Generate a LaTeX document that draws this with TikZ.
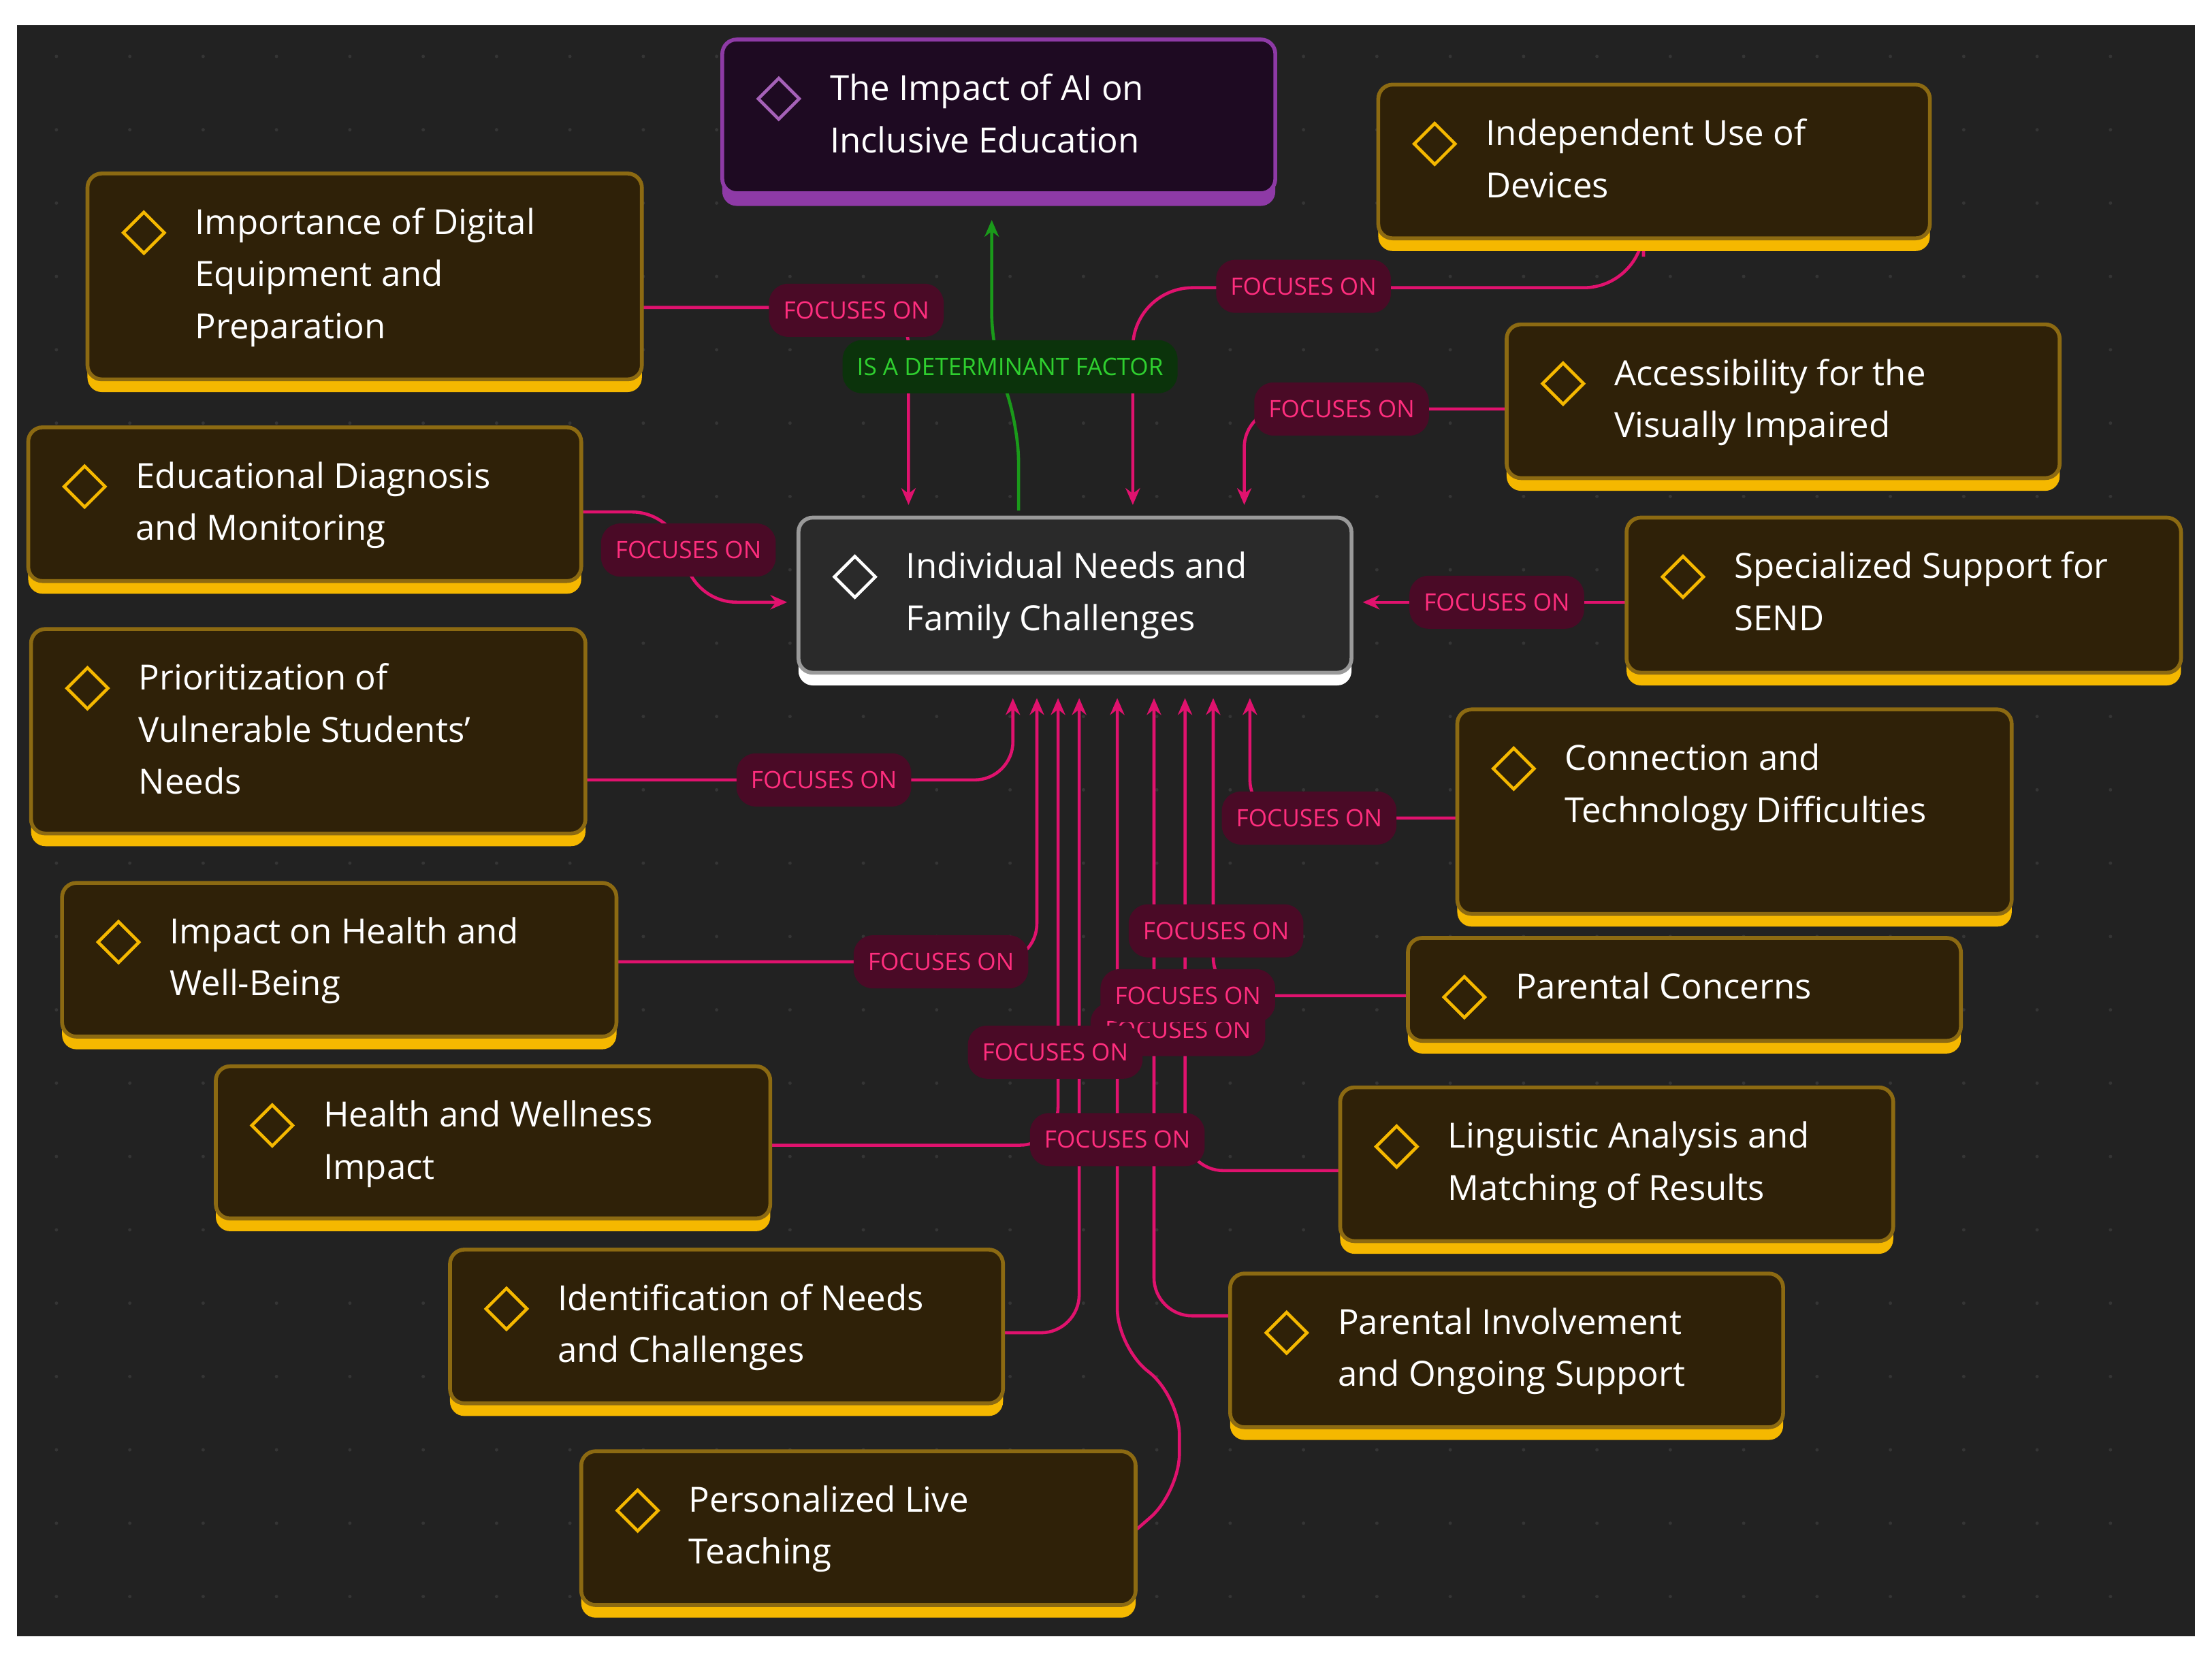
\documentclass[tikz,border=0pt]{standalone}
\usepackage{fontspec}
\setmainfont{Open Sans}
\usetikzlibrary{shapes.geometric,arrows.meta,fit}
\definecolor{bg}{HTML}{222222}
\definecolor{dotc}{HTML}{353535}
\definecolor{bfill}{HTML}{2F2108}
\definecolor{bdraw}{HTML}{8C6A12}
\definecolor{bbar}{HTML}{F5B800}
\definecolor{pfill}{HTML}{1E0A22}
\definecolor{pdraw}{HTML}{8E3AA6}
\definecolor{cfill}{HTML}{2A2A2A}
\definecolor{cdraw}{HTML}{9A9A9A}
\definecolor{ecol}{HTML}{E0126E}
\definecolor{lfill}{HTML}{4A0A26}
\definecolor{ltext}{HTML}{FF2E7E}
\definecolor{gcol}{HTML}{1A9A1A}
\definecolor{gfill}{HTML}{0B330B}
\definecolor{gtext}{HTML}{2FCF2F}
\tikzset{
 ybar/.style={fill=bbar}, ybox/.style={fill=bfill,draw=bdraw,line width=1.6pt}, yicon/.style={draw=bbar},
 pbar/.style={fill=pdraw}, pbox/.style={fill=pfill,draw=pdraw,line width=1.6pt}, picon/.style={draw=pdraw!80!white},
 cbar/.style={fill=white}, cbox/.style={fill=cfill,draw=cdraw,line width=1.6pt}, cicon/.style={draw=white},
 txt/.style={text=white,align=left,font=\fontsize{14.5}{21.8}\selectfont,inner sep=0,anchor=north west},
 e/.style={draw=ecol,line width=1.3pt,rounded corners=16,-{Stealth[length=7pt,width=6pt]}},
 lab/.style={fill=lfill,text=ltext,rounded corners=8pt,font=\fontsize{10}{12}\selectfont,inner xsep=6pt,minimum height=0.78cm},
 glab/.style={fill=gfill,text=gtext,rounded corners=8pt,font=\fontsize{10}{12}\selectfont,inner xsep=6pt,minimum height=0.78cm},
}
\newcommand\cbx[7]{%
 \fill[#1bar,rounded corners=6] (#3,#4) rectangle (#5,#6);
 \draw[#1box,rounded corners=6] (#3,#4) rectangle (#5,#6-9);
 \node[inner sep=0,fit={(#3,#4)(#5,#6)}] (#2) {};
 \node[#1icon,diamond,line width=1.3pt,minimum size=0.62cm,inner sep=0] (#2-i) at (#3+40,#4+42) {};
 \node[txt] (#2-t) at (#3+76,#4+24) {#7};
}
\begin{document}
\begin{tikzpicture}[x=0.020721cm,y=-0.020721cm]
\useasboundingbox (0,0) rectangle (1568,1174);
\fill[white] (0,0) rectangle (1568,1174);
\fill[bg] (12,18) rectangle (1556,1160);
\foreach \x in {40,92,...,1540} \foreach \y in {40,92,...,1150} \fill[dotc] (\x,\y) circle (1.2);
% edges
\draw[e] (455,218) -| (644,358);
\draw[e,rounded corners=25] (1165,182) |- (803,204) -- (803,358);
\draw[e] (1068,290) -| (882,358);
\draw[e,rounded corners=22] (412,363) -| (485,427) -- (558,427);
\draw[e] (1153,427) -- (966,427);
\draw[e] (415,553) -| (718,495);
\draw[e] (1033,580) -| (886,495);
\draw[e] (437,682) -| (735,495);
\draw[e] (546,812) -| (750,495);
\draw[e] (998,706) -| (860,495);
\draw[e] (950,830) -| (840,495);
\draw[e] (872,933) -| (818,495);
\draw[e] (711,945) -| (765,495);
\draw[e] (805,1085) -- (836,1058) -- (836,990) -- (792,955) -- (792,495);
\draw[draw=gcol,line width=1.3pt,rounded corners=16,-{Stealth[length=7pt,width=6pt]}] (722,362) -- (722,300) -- (703,250) -- (703,156);
% boxes
\cbx{p}{ai}{512}{28}{904}{146}{The Impact of AI on\\Inclusive Education}
\cbx{y}{imp}{62}{123}{455}{278}{Importance of Digital\\Equipment and\\Preparation}
\cbx{y}{ind}{977}{60}{1368}{178}{Independent Use of\\Devices}
\cbx{y}{acc}{1068}{230}{1460}{348}{Accessibility for the\\Visually Impaired}
\cbx{y}{edu}{20}{303}{412}{421}{Educational Diagnosis\\and Monitoring}
\cbx{c}{ctr}{566}{367}{958}{486}{Individual Needs and\\Family Challenges}
\cbx{y}{spe}{1153}{367}{1546}{486}{Specialized Support for\\SEND}
\cbx{y}{pri}{22}{446}{415}{600}{Prioritization of\\Vulnerable Students'\\Needs}
\cbx{y}{con}{1033}{503}{1426}{657}{Connection and\\Technology Difficulties}
\cbx{y}{ihw}{44}{626}{437}{744}{Impact on Health and\\Well-Being}
\cbx{y}{par}{998}{665}{1390}{747}{Parental Concerns}
\cbx{y}{hwi}{153}{756}{546}{873}{Health and Wellness\\Impact}
\cbx{y}{lin}{950}{771}{1342}{889}{Linguistic Analysis and\\Matching of Results}
\cbx{y}{idn}{319}{886}{711}{1004}{Identification of Needs\\and Challenges}
\cbx{y}{pin}{872}{903}{1264}{1021}{Parental Involvement\\and Ongoing Support}
\cbx{y}{pli}{412}{1029}{805}{1147}{Personalized Live\\Teaching}
% labels
\node[glab] (g1) at (716,260) {IS A DETERMINANT FACTOR};
\node[lab] (l1) at (607,220) {FOCUSES ON};
\node[lab] (l2) at (924,203) {FOCUSES ON};
\node[lab] (l3) at (951,290) {FOCUSES ON};
\node[lab] (l4) at (488,390) {FOCUSES ON};
\node[lab] (l5) at (1061,427) {FOCUSES ON};
\node[lab] (l6) at (584,553) {FOCUSES ON};
\node[lab] (l7) at (928,580) {FOCUSES ON};
\node[lab] (l8) at (667,682) {FOCUSES ON};
\node[lab] (l9) at (862,660) {FOCUSES ON};
\node[lab] (l10) at (835,730) {FOCUSES ON};
\node[lab] (l11) at (842,706) {FOCUSES ON};
\node[lab] (l12) at (748,746) {FOCUSES ON};
\node[lab] (l13) at (792,808) {FOCUSES ON};
\end{tikzpicture}
\end{document}
